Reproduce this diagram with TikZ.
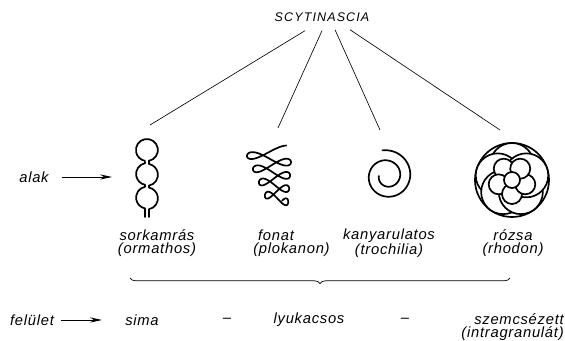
\documentclass[tikz,border=0pt]{standalone}
\usepackage{fontspec}
\setmainfont{Liberation Sans}
\usetikzlibrary{arrows.meta,calc,decorations.pathreplacing}

\begin{document}
\begin{tikzpicture}
	[
	x=0.25mm, y=0.25mm,
	word/.style={
		font=\itshape\fontsize{10.5}{9.5}\selectfont\addfontfeature{LetterSpace=5},
		inner sep=0pt
	},
	caption/.style={
		word,
		align=center
	},
	icon/.style={
		line width=1.2pt,
		line cap=round,
		line join=round
	},
	branch/.style={
		line width=0.45pt
	},
	arrow/.style={
		-{Stealth[length=3mm,width=1.3mm]},
		line width=0.6pt
	}
	]
	
	\useasboundingbox (0,0) rectangle (565,341);
	
	% group name and its four branches
	\node[word, font=\itshape\fontsize{8.9}{10}\selectfont\addfontfeature{LetterSpace=9}] (scyt) at (322,324) {SCYTINASCIA};
	
	\coordinate (ormathos_top) at (150,216);
	\coordinate (plokanon_top) at (278,213);
	\coordinate (trochilia_top) at (380,211);
	\coordinate (rhodon_top) at (500,211);
	
	\draw[branch] ($(scyt.south)+(-17,-9)$) -- (ormathos_top);
	\draw[branch] ($(scyt.south)+(0,-9)$) -- (plokanon_top);
	\draw[branch] ($(scyt.south)+(13,-8)$) -- (trochilia_top);
	\draw[branch] ($(scyt.south)+(28,-8)$) -- (rhodon_top);
	
	% sorkamras: chambers in a row
	\begin{scope}[icon, shift={(147,0)}]
		\draw (2,180.2) arc[start angle=-79, end angle=259, radius=11]
			-- (-2,177.8) arc[start angle=101, end angle=259, radius=11]
			-- (-2,154.2) arc[start angle=101, end angle=259, radius=11]
			-- (-2,124);
		\draw (2,124) -- (2,131.8) arc[start angle=-79, end angle=79, radius=11]
			-- (2,155.4) arc[start angle=-79, end angle=79, radius=11]
			-- (2,180.2);
	\end{scope}
	
	% fonat: looped braid
	\draw[icon] plot[domain=0.7:26.3, samples=260, smooth]
		({268+0.4*\x+(24-0.55*\x)*cos(\x r)}, {192-2.1*\x+5*sin(2*\x r)});
	
	% kanyarulatos: spiral
	\draw[icon] plot[domain=0:640, samples=170, smooth]
		({387+(26-0.028*\x)*cos(100-\x)}, {165+(26-0.028*\x)*sin(100-\x)});
	
	% rozsa: rosette
	\begin{scope}[icon, shift={(512,161)}]
		\draw (0,0) circle[radius=37];
		\foreach \a in {90,162,234,306,378}
			\filldraw[fill=white] (\a:15) circle[radius=22];
		\foreach \a in {126,198,270,342,414}
			\filldraw[fill=white] (\a:14) circle[radius=10];
		\filldraw[fill=white] (0,0) circle[radius=8];
	\end{scope}
	
	% shape row
	\node[word] (alak) at (34,164) {alak};
	\coordinate (alak_to) at (112,164);
	\draw[arrow, shorten <=3.2mm] (alak) -- (alak_to);
	
	\node[caption] (ormathos) at (157,98) {sorkamrás\\(ormathos)};
	\node[word, align=left, anchor=west] (plokanon) at (253,98) {\ fonat\\(plokanon)};
	\node[caption] (trochilia) at (389,98) {kanyarulatos\\(trochilia)};
	\node[caption] (rhodon) at (513,98) {rózsa\\(rhodon)};
	
	\coordinate (brace_l) at (130,63);
	\coordinate (brace_r) at (510,63);
	\draw[decorate, decoration={brace, mirror, amplitude=4pt}, line width=0.5pt] (brace_l) -- (brace_r);
	
	% surface row
	\node[word] (felulet) at (32,21) {felület};
	\coordinate (felulet_to) at (102,21);
	\draw[arrow, shorten <=1.8mm] (felulet) -- (felulet_to);
	
	\node[word] (sima) at (142,21) {sima};
	\node[word] (dash_a) at (227,21) {–};
	\node[word] (lyukacsos) at (309,21) {lyukacsos};
	\node[word] (dash_b) at (405,21) {–};
	\node[word, align=right, anchor=east] (szemcsezett) at (564,14) {szemcsézett\\(intragranulát)};
	
\end{tikzpicture}
\end{document}
